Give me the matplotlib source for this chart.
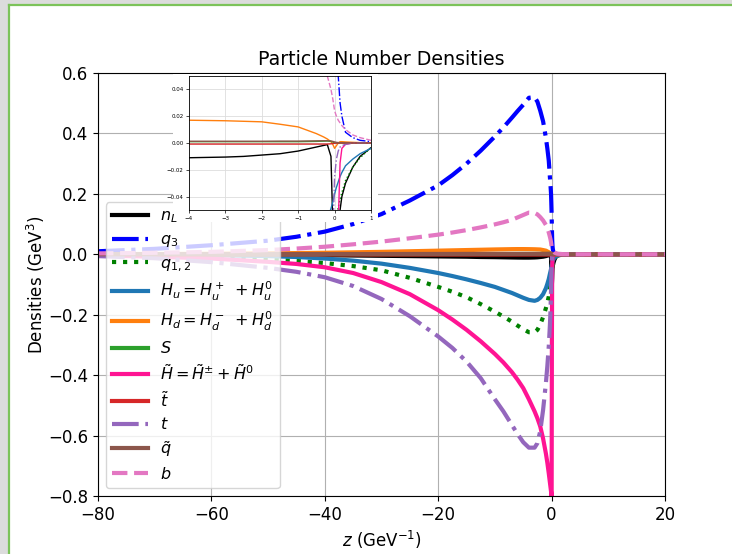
import numpy as np
import matplotlib
matplotlib.use("Agg")
import matplotlib.pyplot as plt
from matplotlib.patches import Rectangle, Polygon
from matplotlib.lines import Line2D

# z grid (GeV^-1) and densities
z = [-80, -70, -60, -50, -45, -40, -35, -30, -25, -20,
     -17.5, -15, -12.5, -10, -8.5, -7, -6, -5, -4, -3,
     -2.5, -2, -1.5, -1, -0.75, -0.5, -0.3, -0.2, -0.1, -0.05,
     0, 0.05, 0.1, 0.15, 0.2, 0.3, 0.5, 0.7, 1, 2,
     5, 10, 20]

n_L = [-0.0005, -0.001, -0.0015, -0.002, -0.0025, -0.003, -0.004, -0.005, -0.006, -0.007,
       -0.0075, -0.008, -0.009, -0.0095, -0.01, -0.0105, -0.0108, -0.011, -0.011, -0.0105,
       -0.01, -0.009, -0.008, -0.006, -0.0045, -0.003, -0.0018, -0.0012, -0.01, -0.06,
       -0.1, -0.1, -0.08, -0.05, -0.04, -0.03, -0.018, -0.01, -0.0035, -0.001,
       0, 0, 0]
q3 = [0.010, 0.018, 0.030, 0.045, 0.058, 0.075, 0.10, 0.133, 0.178, 0.228,
      0.262, 0.30, 0.343, 0.39, 0.42, 0.452, 0.474, 0.495, 0.518, 0.52,
      0.505, 0.475, 0.44, 0.385, 0.35, 0.31, 0.255, 0.23, 0.20, 0.17,
      0.137, 0.09, 0.05, 0.03, 0.02, 0.008, 0.004, 0.002, 0.001, 0,
      0, 0, 0]
q12 = [-0.003, -0.005, -0.009, -0.017, -0.022, -0.029, -0.039, -0.053, -0.078, -0.108,
       -0.124, -0.142, -0.165, -0.19, -0.206, -0.223, -0.236, -0.248, -0.258, -0.258,
       -0.25, -0.232, -0.208, -0.178, -0.16, -0.14, -0.11, -0.095, -0.08, -0.07,
       -0.06, -0.055, -0.048, -0.042, -0.037, -0.028, -0.018, -0.011, -0.0035, -0.001,
       0, 0, 0]
H_u = [-0.001, -0.002, -0.003, -0.006, -0.009, -0.014, -0.021, -0.031, -0.045, -0.062,
       -0.072, -0.083, -0.095, -0.108, -0.118, -0.128, -0.136, -0.144, -0.151, -0.154,
       -0.151, -0.144, -0.132, -0.112, -0.098, -0.082, -0.065, -0.057, -0.049, -0.044,
       -0.038, -0.033, -0.029, -0.025, -0.022, -0.017, -0.012, -0.008, -0.004, -0.001,
       0, 0, 0]
H_d = [0.0005, 0.001, 0.0015, 0.003, 0.004, 0.005, 0.0065, 0.008, 0.010, 0.012,
       0.013, 0.014, 0.015, 0.016, 0.0165, 0.017, 0.0172, 0.0172, 0.017, 0.0166,
       0.0162, 0.0158, 0.014, 0.012, 0.0095, 0.007, 0.0045, 0.003, 0.001, -0.001,
       -0.004, -0.002, 0.0, 0.001, 0.001, 0.0008, 0.0005, 0.0003, 0.0002, 0,
       0, 0, 0]
S = [0, 0, 0, 0, 0.0001, 0.0002, 0.0003, 0.0004, 0.0005, 0.0006,
     0.00065, 0.0007, 0.00075, 0.0008, 0.00085, 0.0009, 0.001, 0.001, 0.001, 0.001,
     0.001, 0.001, 0.001, 0.001, 0.0011, 0.0012, 0.0014, 0.0015, 0.0012, 0.0008,
     0, 0, 0, 0, 0, 0, 0, 0, 0, 0,
     0, 0, 0]
H_tilde = [-0.004, -0.008, -0.014, -0.025, -0.032, -0.043, -0.062, -0.092, -0.132, -0.185,
           -0.216, -0.25, -0.288, -0.33, -0.358, -0.39, -0.415, -0.443, -0.48, -0.52,
           -0.543, -0.57, -0.61, -0.66, -0.69, -0.725, -0.755, -0.77, -0.785, -0.795,
           -0.85, -0.3, -0.06, -0.015, -0.004, -0.001, 0, 0, 0, 0,
           0, 0, 0]
t_tilde = [-0.0001, -0.0002, -0.0003, -0.0004, -0.00045, -0.0005, -0.00055, -0.0006, -0.00065, -0.0007,
           -0.00075, -0.0008, -0.0008, -0.0008, -0.0008, -0.0008, -0.0008, -0.0008, -0.0008, -0.0008,
           -0.0008, -0.0008, -0.0008, -0.0008, -0.0008, -0.0008, -0.0008, -0.0008, -0.0006, -0.0004,
           -0.0002, 0, 0, 0, 0, 0, 0, 0, 0, 0,
           0, 0, 0]
t = [-0.006, -0.013, -0.026, -0.045, -0.058, -0.076, -0.105, -0.148, -0.205, -0.272,
     -0.31, -0.355, -0.41, -0.48, -0.52, -0.565, -0.595, -0.622, -0.64, -0.64,
     -0.625, -0.585, -0.515, -0.425, -0.37, -0.305, -0.235, -0.19, -0.12, -0.07,
     -0.025, -0.012, -0.006, -0.003, -0.002, -0.001, 0, 0, 0, 0,
     0, 0, 0]
q_tilde = [0.0001, 0.0002, 0.0003, 0.0005, 0.0006, 0.0007, 0.0008, 0.0009, 0.001, 0.0011,
           0.0011, 0.0012, 0.0012, 0.0012, 0.0012, 0.0012, 0.0012, 0.0013, 0.0013, 0.0013,
           0.0013, 0.0013, 0.0014, 0.0014, 0.0015, 0.0016, 0.0017, 0.0017, 0.0015, 0.0012,
           0.0008, 0.0005, 0.0003, 0.0002, 0.0001, 0, 0, 0, 0, 0,
           0, 0, 0]
b = [0.003, 0.005, 0.008, 0.014, 0.019, 0.025, 0.033, 0.042, 0.053, 0.065,
     0.072, 0.08, 0.089, 0.099, 0.106, 0.114, 0.122, 0.13, 0.138, 0.137,
     0.132, 0.123, 0.112, 0.097, 0.086, 0.072, 0.058, 0.05, 0.04, 0.033,
     0.024, 0.02, 0.017, 0.015, 0.013, 0.01, 0.006, 0.004, 0.002, 0.0005,
     0, 0, 0]

series = [
    (n_L, "$n_L$", "black", "-"),
    (q3, "$q_3$", "blue", "-."),
    (q12, "$q_{1,2}$", "green", ":"),
    (H_u, "$H_u = H_u^+ \\ + H_u^0$", "tab:blue", "-"),
    (H_d, "$H_d = H_d^- \\ + H_d^0$", "tab:orange", "-"),
    (S, "$S$", "tab:green", "-"),
    (H_tilde, r"$\tilde{H} = \tilde{H}^{\pm} + \tilde{H}^0$", "deeppink", "-"),
    (t_tilde, r"$\tilde{t}$", "tab:red", "-"),
    (t, "$t$", "tab:purple", "-."),
    (q_tilde, r"$\tilde{q}$", "tab:brown", "-"),
    (b, "$b$", "tab:pink", "--"),
]

plt.rcParams['font.size'] = 12
W, H = 732, 554

fig = plt.figure(figsize=(7.32, 5.54), dpi=100)
fig.patch.set_facecolor("white")

# screenshot frame: grey margin and green border
fig.add_artist(Rectangle((0, 0), 8/W, 1, transform=fig.transFigure, color="#dcdcdc", zorder=-5))
fig.add_artist(Rectangle((0, 1 - 4/H), 1, 4/H, transform=fig.transFigure, color="#dcdcdc", zorder=-5))
fig.add_artist(Line2D([8.5/W, 8.5/W], [0, 1 - 4.5/H], transform=fig.transFigure, color="#7cc35a", lw=1.6))
fig.add_artist(Line2D([8.5/W, 1], [1 - 4.5/H, 1 - 4.5/H], transform=fig.transFigure, color="#7cc35a", lw=1.6))

ax = fig.add_axes([98/W, 1 - 496/H, 567/W, 423/H])
for vals, lab, col, ls in series:
    ax.plot(z, vals, color=col, linestyle=ls, lw=3, label=lab)
ax.set_xlim(-80, 20)
ax.set_ylim(-0.8, 0.6)
ax.grid(True)
ax.set_title("Particle Number Densities", fontsize=13.7)
ax.set_xlabel("$z$ (GeV$^{-1}$)")
ax.set_ylabel("Densities (GeV$^3$)", labelpad=1)
ax.legend(loc="lower left", fontsize=11.5, labelspacing=0.42, handlelength=2.2)

# white backing of the pasted inset (leaves the n_L legend label uncovered)
px = [(173, 74), (378, 74), (378, 222), (179, 222), (179, 205), (173, 205)]
fig.add_artist(Polygon([(x / W, 1 - y / H) for x, y in px], closed=True,
                       transform=fig.transFigure, facecolor="white", edgecolor="none", zorder=1.5))

axin = fig.add_axes([189/W, 1 - 210/H, 182/W, 134/H], zorder=2)
for vals, lab, col, ls in series:
    axin.plot(z, vals, color=col, linestyle=ls, lw=1)
axin.set_xlim(-4, 1)
axin.set_ylim(-0.05, 0.05)
axin.set_xticks([-4, -3, -2, -1, 0, 1])
axin.set_yticks([-0.04, -0.02, 0.0, 0.02, 0.04])
axin.tick_params(labelsize=4, length=2, width=0.5, pad=2)
for sp in axin.spines.values():
    sp.set_linewidth(0.6)
axin.grid(True, lw=0.6, color="#dddddd")

fig.savefig("out.png", dpi=100)
